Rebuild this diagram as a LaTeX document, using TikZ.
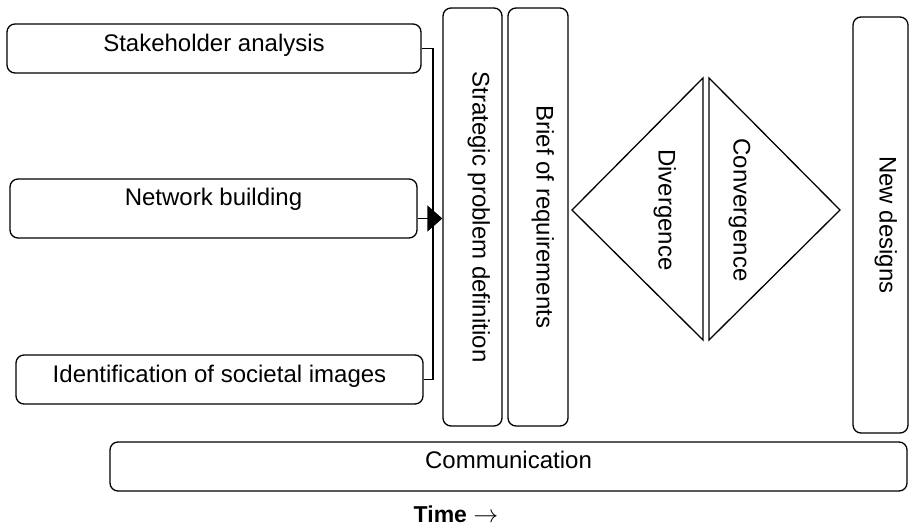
\documentclass[tikz,border=0pt]{standalone}
\usepackage{fontspec}
\setmainfont{Liberation Sans}
\usetikzlibrary{arrows.meta, calc}

\begin{document}
\begin{tikzpicture}[x=1pt, y=-1pt,
    box/.style={draw, line width=1.3pt, rounded corners=8pt, inner sep=0pt,
        font=\fontsize{24}{28}\selectfont, text height=17pt},
    vbox/.style={box, rotate=-90},
    lbl/.style={inner sep=0pt, font=\fontsize{24}{28}\selectfont,
        text height=17pt, text depth=0pt},
    link/.style={line width=1.3pt}]
    \useasboundingbox (0, 0) rectangle (909, 526);

    % inputs
    \node[box, minimum width=414pt, minimum height=49pt, text depth=10pt] (sa) at (214, 48.5) {Stakeholder analysis};
    \node[box, minimum width=407pt, minimum height=59pt, text depth=22pt] (nb) at (213.5, 208.5) {Network building};
    \node[box, minimum width=407pt, minimum height=49pt, text depth=12pt] (ii) at (219.5, 379.5) {Identification of societal images};

    % phases
    \node[vbox, minimum width=418pt, minimum height=59pt, text depth=17pt] (sp) at (472.5, 217) {Strategic problem definition};
    \node[vbox, minimum width=418pt, minimum height=60pt, text depth=14pt] (br) at (538, 217) {Brief of requirements};
    \node[vbox, minimum width=416pt, minimum height=55pt, text depth=15pt] (nd) at (880.5, 225) {New designs};
    \node[box, minimum width=797pt, minimum height=49pt, text depth=14pt] (cm) at (508.5, 466.5) {Communication};

    % diamond
    \coordinate (dl) at (572, 210);
    \coordinate (dr) at (840, 210);
    \draw[link, line join=miter] (dl) -- (703, 78) -- (703, 340) -- cycle;
    \draw[link, line join=miter] (709, 78) -- (dr) -- (709, 340) -- cycle;
    \node[lbl, rotate=-90] (dv) at (667, 210) {Divergence};
    \node[lbl, rotate=-90] (cv) at (742, 210) {Convergence};

    % connectors
    \coordinate (jn) at (433, 219);
    \coordinate (nbo) at ([yshift=-10pt]nb.east);
    \draw[link] (sa.east) -| (jn) |- (ii.east);
    \draw[link, -{Triangle[length=15pt, width=26pt]}] (nbo) -- (nbo -| sp.south);

    \node[lbl, font=\fontsize{23}{28}\selectfont\bfseries] (tm) at (456, 514) {Time\ $\rightarrow$};
\end{tikzpicture}
\end{document}
